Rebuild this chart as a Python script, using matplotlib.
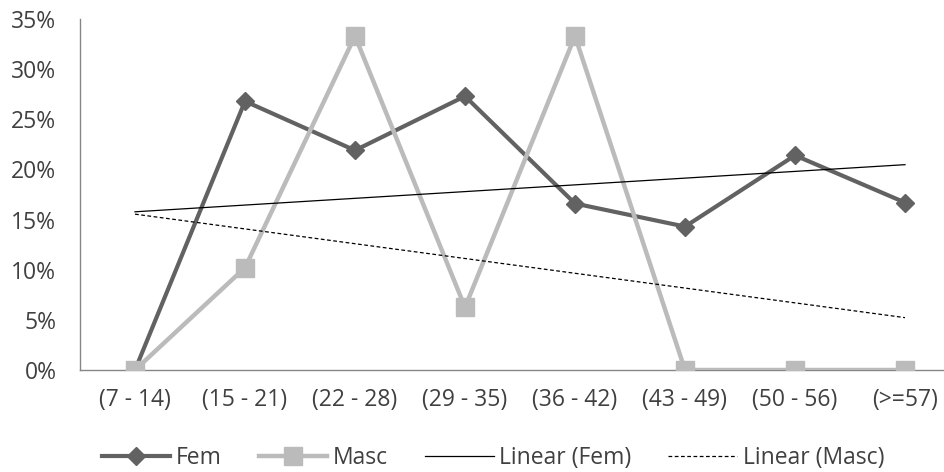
import matplotlib
matplotlib.use("Agg")
import matplotlib.pyplot as plt
import numpy as np

# Daten
categories = ["(7 - 14)", "(15 - 21)", "(22 - 28)", "(29 - 35)", "(36 - 42)",
              "(43 - 49)", "(50 - 56)", "(>=57)"]
fem = [0.0, 26.8, 21.9, 27.3, 16.6, 14.3, 21.4, 16.7]
masc = [0.0, 10.2, 33.3, 6.25, 33.3, 0.0, 0.0, 0.0]

plt.rcParams['font.family'] = ['Open Sans', 'DejaVu Sans']
text_col = "#404040"

fig = plt.figure(figsize=(9.44, 4.72), dpi=100)
ax = fig.add_axes([80 / 944, 102 / 472, 880 / 944, 351 / 472])

x = np.arange(len(categories))

# Lineare Trendlinien
fit_f = np.polyfit(x, fem, 1)
fit_m = np.polyfit(x, masc, 1)

ax.plot(x, fem, color="#626262", linewidth=3, marker="D", markersize=9,
        label="Fem", zorder=3)
ax.plot(x, masc, color="#BBBBBB", linewidth=3.2, marker="s", markersize=13,
        label="Masc", zorder=4)
ax.plot(x, np.polyval(fit_f, x), color="black", linewidth=0.9,
        label="Linear (Fem)", zorder=5)
ax.plot(x, np.polyval(fit_m, x), color="black", linewidth=0.9,
        linestyle=(0, (3, 2)), label="Linear (Masc)", zorder=5)

ax.set_xlim(-0.5, 7.5)
ax.set_ylim(0, 35)
ax.set_yticks(range(0, 36, 5))
ax.set_yticklabels([f"{v}%" for v in range(0, 36, 5)])
ax.set_xticks(x)
ax.set_xticklabels(categories)
ax.tick_params(axis="both", length=0, labelsize=16.5, colors=text_col)
ax.tick_params(axis="y", pad=17)
ax.tick_params(axis="x", pad=13)

for s in ["top", "right"]:
    ax.spines[s].set_visible(False)
for s in ["left", "bottom"]:
    ax.spines[s].set_color("#868686")
    ax.spines[s].set_linewidth(1)

leg = fig.legend(loc="center", bbox_to_anchor=(493 / 944, 1 - 458 / 472),
                 ncol=4, frameon=False, fontsize=16.5, handlelength=3.0,
                 columnspacing=1.6, handletextpad=0.25)
for t in leg.get_texts():
    t.set_color(text_col)

fig.savefig("out.png", dpi=100)
